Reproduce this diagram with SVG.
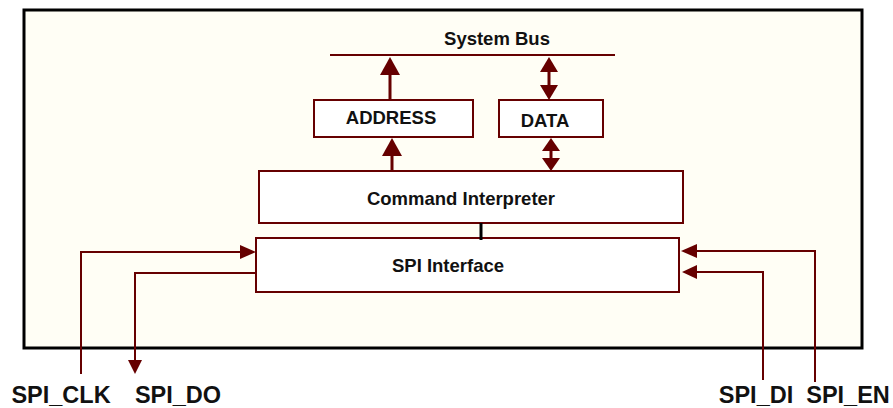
<svg xmlns="http://www.w3.org/2000/svg" width="893" height="408" viewBox="0 0 893 408">
<defs>
<style>
.lbl{font-family:"Liberation Sans",Arial,sans-serif;font-weight:bold;fill:#111;text-anchor:middle}
.box{fill:#fff;stroke:#660000;stroke-width:2}
.w{stroke:#660000;stroke-width:2;fill:none}
.wt{stroke:#660000;stroke-width:3;fill:none}
.ah{fill:#660000}
</style>
</defs>
<rect x="24" y="10" width="838" height="338" fill="#fffef5" stroke="#000" stroke-width="3"/>
<g id="bus">
<line class="w" x1="330" y1="55" x2="615" y2="55"/>
<text class="lbl" x="497" y="45" font-size="18.5">System Bus</text>
</g>
<g id="address">
<rect class="box" x="314" y="100" width="159" height="37"/>
<text class="lbl" x="391" y="124" font-size="18.5">ADDRESS</text>
</g>
<g id="data">
<rect class="box" x="499" y="100" width="104" height="37"/>
<text class="lbl" x="545" y="127" font-size="18.5">DATA</text>
</g>
<g id="cmd">
<rect class="box" x="259" y="171" width="424" height="52"/>
<text class="lbl" x="461" y="205" font-size="18.5">Command Interpreter</text>
</g>
<g id="spi">
<rect class="box" x="256" y="238" width="423" height="54"/>
<text class="lbl" x="448" y="272" font-size="18.5">SPI Interface</text>
</g>
<g id="connectors">
<line class="wt" x1="390" y1="100" x2="390" y2="74"/>
<polygon class="ah" points="390,57 380,75 400,75"/>
<line class="wt" x1="549" y1="70" x2="549" y2="88"/>
<polygon class="ah" points="549,57 540,72 558,72"/>
<polygon class="ah" points="549,100 540,85 558,85"/>
<line class="wt" x1="392" y1="171" x2="392" y2="154"/>
<polygon class="ah" points="392,138 382,156 402,156"/>
<line class="wt" x1="551" y1="150" x2="551" y2="160"/>
<polygon class="ah" points="551,138 542,151 560,151"/>
<polygon class="ah" points="551,171 542,158 560,158"/>
<line stroke="#000" stroke-width="3" x1="481" y1="223" x2="481" y2="240"/>
<polyline class="w" points="81,374 81,252 242,252"/>
<polygon class="ah" points="256,252 240,245 240,259"/>
<polyline class="w" points="256,273 135,273 135,360"/>
<polygon class="ah" points="135,374 128,360 142,360"/>
<polyline class="w" points="815,382 815,251 696,251"/>
<polygon class="ah" points="681,251 697,244 697,258"/>
<polyline class="w" points="763,380 763,272 697,272"/>
<polygon class="ah" points="682,272 697,265 697,279"/>
</g>
<g id="pins">
<text class="lbl" x="61" y="403" font-size="23.5">SPI_CLK</text>
<text class="lbl" x="178" y="403" font-size="23.5">SPI_DO</text>
<text class="lbl" x="756" y="403" font-size="23.5">SPI_DI</text>
<text class="lbl" x="848" y="403" font-size="23.5">SPI_EN</text>
</g>
</svg>
